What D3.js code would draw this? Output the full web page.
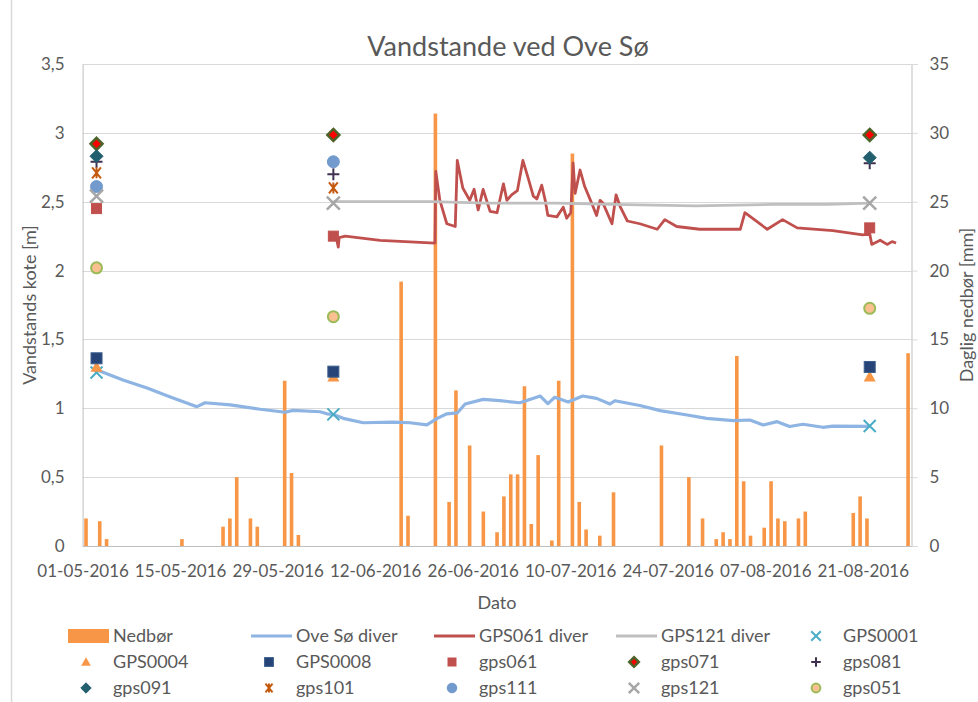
<!DOCTYPE html>
<html><head><meta charset="utf-8">
<script src="https://cdn.jsdelivr.net/npm/d3@7"></script>
<style>
html,body{margin:0;padding:0;background:#fff;}
text{font-family:Lato,"Open Sans",sans-serif;fill:#595959;}
</style></head>
<body><svg id="c" width="978" height="702"></svg>
<script>
// ---------- DATA ----------
const rainDates = ["2016-05-01","2016-05-03","2016-05-04","2016-05-15","2016-05-21","2016-05-22","2016-05-23","2016-05-25","2016-05-26","2016-05-30","2016-05-31","2016-06-01","2016-06-16","2016-06-17","2016-06-21","2016-06-23","2016-06-24","2016-06-26","2016-06-28","2016-06-30","2016-07-01","2016-07-02","2016-07-03","2016-07-04","2016-07-05","2016-07-06","2016-07-08","2016-07-09","2016-07-11","2016-07-12","2016-07-13","2016-07-15","2016-07-17","2016-07-24","2016-07-28","2016-07-30","2016-08-01","2016-08-02","2016-08-03","2016-08-04","2016-08-05","2016-08-06","2016-08-08","2016-08-09","2016-08-10","2016-08-11","2016-08-13","2016-08-14","2016-08-21","2016-08-22","2016-08-23","2016-08-29"];
const rainValues = [2.0,1.8,0.5,0.5,1.4,2.0,5.0,2.0,1.4,12.0,5.3,0.8,19.2,2.2,31.4,3.2,11.3,7.3,2.5,1.0,3.6,5.2,5.2,11.6,1.6,6.6,0.4,12.0,28.5,3.2,1.2,0.75,3.9,7.3,5.0,2.0,0.5,1.0,0.5,13.8,4.7,0.75,1.33,4.7,2.0,1.8,2.0,2.5,2.4,3.6,2.0,14.0];

const oveDates = ["2016-05-03 00","2016-05-06 19","2016-05-10 06","2016-05-13 12","2016-05-17 10","2016-05-18 14","2016-05-22 05","2016-05-26 12","2016-05-30 02","2016-05-31 05","2016-06-04 02","2016-06-05 02","2016-06-06 00","2016-06-07 10","2016-06-10 07","2016-06-14 14","2016-06-17 00","2016-06-19 10","2016-06-20 22","2016-06-22 07","2016-06-23 19","2016-06-24 22","2016-06-27 12","2016-06-29 22","2016-07-02 19","2016-07-05 17","2016-07-06 19","2016-07-07 19","2016-07-09 17","2016-07-11 19","2016-07-13 19","2016-07-15 17","2016-07-16 10","2016-07-20 00","2016-07-22 22","2016-07-26 19","2016-07-29 14","2016-08-02 10","2016-08-04 19","2016-08-06 17","2016-08-08 17","2016-08-10 12","2016-08-12 10","2016-08-15 07","2016-08-16 17","2016-08-22 00"];
const oveValues = [1.28,1.205,1.147,1.084,1.012,1.04,1.025,0.993,0.971,0.985,0.975,0.96,0.955,0.927,0.895,0.90,0.895,0.879,0.927,0.96,0.966,1.031,1.065,1.055,1.04,1.089,1.034,1.08,1.045,1.089,1.072,1.031,1.055,1.02,0.983,0.951,0.927,0.910,0.915,0.879,0.903,0.868,0.884,0.862,0.871,0.868];

const g061Dates = ["2016-06-06 00","2016-06-06 10","2016-06-06 17","2016-06-06 20","2016-06-07 17","2016-06-12 17","2016-06-20 14","2016-06-20 17","2016-06-21 07","2016-06-22 07","2016-06-23 12","2016-06-23 19","2016-06-24 14","2016-06-25 14","2016-06-26 05","2016-06-26 19","2016-06-27 12","2016-06-28 12","2016-06-29 12","2016-06-30 10","2016-06-30 22","2016-07-01 14","2016-07-02 10","2016-07-03 05","2016-07-03 22","2016-07-04 17","2016-07-05 05","2016-07-05 22","2016-07-06 10","2016-07-06 19","2016-07-08 02","2016-07-09 00","2016-07-09 12","2016-07-10 02","2016-07-10 10","2016-07-10 17","2016-07-11 10","2016-07-12 02","2016-07-13 02","2016-07-13 19","2016-07-14 07","2016-07-14 17","2016-07-16 00","2016-07-16 14","2016-07-17 05","2016-07-18 05","2016-07-20 00","2016-07-22 12","2016-07-23 14","2016-07-25 07","2016-07-28 14","2016-08-03 10","2016-08-04 02","2016-08-07 07","2016-08-09 12","2016-08-11 14","2016-08-16 17","2016-08-21 00","2016-08-22 00","2016-08-22 07","2016-08-23 12","2016-08-24 12","2016-08-25 05","2016-08-25 19"];
const g061Values = [2.25,2.24,2.17,2.24,2.25,2.22,2.20,2.72,2.51,2.34,2.32,2.80,2.60,2.51,2.59,2.44,2.59,2.43,2.42,2.63,2.51,2.55,2.58,2.80,2.68,2.54,2.52,2.62,2.51,2.40,2.39,2.46,2.38,2.42,2.78,2.56,2.73,2.61,2.49,2.40,2.51,2.49,2.34,2.55,2.46,2.36,2.34,2.30,2.37,2.32,2.30,2.30,2.42,2.30,2.37,2.31,2.29,2.26,2.27,2.19,2.22,2.19,2.21,2.20];

const g121Dates = ["2016-06-06 00","2016-06-12 00","2016-06-20 00","2016-06-28 00","2016-07-08 00","2016-07-16 00","2016-07-28 00","2016-08-08 00","2016-08-16 00","2016-08-22 00"];
const g121Values = [2.50,2.50,2.50,2.49,2.49,2.48,2.47,2.48,2.48,2.49];

const surveyDates = ["2016-05-03","2016-06-06","2016-08-22"];
const GPS0001 = [1.26, 0.956, 0.871];
const GPS0004 = [1.30, 1.23, 1.23];
const GPS0008 = [1.363, 1.266, 1.30];
const gps061 = [2.45, 2.25, 2.31];
const gps071 = [2.92, 2.985, 2.985];
const gps081 = [2.79, 2.70, 2.78];
const gps091 = [2.83, null, 2.82];
const gps101 = [2.71, 2.60, null];
const gps111 = [2.61, 2.79, null];
const gps121 = [2.54, 2.49, 2.49];
const gps051 = [2.02, 1.665, 1.726];

const xTickDates = ["2016-05-01","2016-05-15","2016-05-29","2016-06-12","2016-06-26","2016-07-10","2016-07-24","2016-08-07","2016-08-21"];
const yLeftTicks = [0,0.5,1,1.5,2,2.5,3,3.5];
const yRightTicks = [0,5,10,15,20,25,30,35];

// ---------- CHART ----------
const pDay = d3.timeParse("%Y-%m-%d");
const pHour = d3.timeParse("%Y-%m-%d %H");
const svg = d3.select("#c");
const L = 82.6, R = 911.5, T = 64, B = 546;

const xT = d3.scaleTime().domain([pDay("2016-05-01"), pDay("2016-08-28")]).range([L, R]);
const allDays = d3.timeDay.range(pDay("2016-05-01"), pDay("2016-08-30")).map(d3.timeFormat("%Y-%m-%d"));
const xB = d3.scaleBand().domain(allDays).range([L, R]);
const yL = d3.scaleLinear().domain([0, 3.5]).range([B, T]);
const yR = d3.scaleLinear().domain([0, 35]).range([B, T]);

// chart border
svg.append("line").attr("x1",11.5).attr("x2",11.5).attr("y1",0).attr("y2",702).attr("stroke","#D9D9D9").attr("stroke-width",1.5);

// gridlines
svg.append("g").selectAll("line").data(yLeftTicks).join("line")
  .attr("x1", L).attr("x2", R).attr("y1", d => Math.round(yL(d))+0.5).attr("y2", d => Math.round(yL(d))+0.5)
  .attr("stroke", "#D9D9D9").attr("stroke-width", 1);

// title
svg.append("text").attr("x", 508).attr("y", 56).attr("text-anchor","middle")
  .style("font-size","27px").text("Vandstande ved Ove Sø");

// bars
svg.append("g").selectAll("rect").data(rainDates.map((d,i)=>({d, v: rainValues[i]}))).join("rect")
  .attr("x", d => xB(d.d) + xB.bandwidth()/2 - 1.8)
  .attr("width", 3.6)
  .attr("y", d => yR(d.v)).attr("height", d => B - yR(d.v))
  .attr("fill", "#F79646");

// axes
const axB = svg.append("g").attr("transform", `translate(0,${B})`)
  .call(d3.axisBottom(xT).tickValues(xTickDates.map(pDay)).tickFormat(d3.timeFormat("%d-%m-%Y")).tickSize(0).tickPadding(19));
axB.select(".domain").attr("stroke","#BFBFBF");
axB.selectAll("text").style("font-size","17px").style("font-family","Lato");

const axL = svg.append("g").attr("transform", `translate(${L},0)`)
  .call(d3.axisLeft(yL).tickValues(yLeftTicks).tickFormat(d => String(d).replace(".", ",")).tickSize(0).tickPadding(18));
axL.select(".domain").attr("stroke","#BFBFBF");
axL.selectAll("text").style("font-size","17px").style("font-family","Lato");

const axR = svg.append("g").attr("transform", `translate(${R},0)`)
  .call(d3.axisRight(yR).tickValues(yRightTicks).tickSize(6).tickPadding(12));
axR.select(".domain").attr("stroke","#BFBFBF");
axR.selectAll("line").attr("stroke","#D9D9D9");
axR.selectAll("text").style("font-size","17px").style("font-family","Lato");
axL.selectAll("text").attr("fill","#595959");
axR.selectAll("text").attr("fill","#595959");
axB.selectAll("text").attr("fill","#595959");

// axis titles
svg.append("text").attr("x", 497).attr("y", 609).attr("text-anchor","middle").style("font-size","18px").text("Dato");
svg.append("text").attr("transform","translate(36,305) rotate(-90)").attr("text-anchor","middle").style("font-size","18px").text("Vandstands kote [m]");
svg.append("text").attr("transform","translate(973,305) rotate(-90)").attr("text-anchor","middle").style("font-size","18px").text("Daglig nedbør [mm]");

// lines
function drawLine(dates, vals, color, w) {
  const data = dates.map((d,i)=>[pHour(d), vals[i]]);
  svg.append("path").datum(data)
    .attr("d", d3.line().x(d => xT(d[0])).y(d => yL(d[1])))
    .attr("fill","none").attr("stroke", color).attr("stroke-width", w).attr("stroke-linejoin","round");
}
drawLine(oveDates, oveValues, "#8DB4E2", 3.2);
drawLine(g061Dates, g061Values, "#C0504D", 2.8);
drawLine(g121Dates, g121Values, "#BFBFBF", 2.8);

// markers
function marker(g, type, x, y, s, st) {
  const c = st.color;
  if (type === "x") {
    g.append("path").attr("d", `M${x-s},${y-s}L${x+s},${y+s}M${x-s},${y+s}L${x+s},${y-s}`).attr("stroke", c).attr("stroke-width", st.w || 2).attr("fill","none");
  } else if (type === "tri") {
    g.append("path").attr("d", `M${x},${y-s}L${x+s},${y+s*0.8}L${x-s},${y+s*0.8}Z`).attr("fill", c);
  } else if (type === "square") {
    g.append("rect").attr("x", x-s).attr("y", y-s).attr("width", 2*s).attr("height", 2*s).attr("fill", c).attr("stroke", st.stroke || c).attr("stroke-width", 1);
  } else if (type === "diamond") {
    g.append("path").attr("d", `M${x},${y-s}L${x+s},${y}L${x},${y+s}L${x-s},${y}Z`).attr("fill", c).attr("stroke", st.stroke || c).attr("stroke-width", st.sw || 1);
  } else if (type === "plus") {
    g.append("path").attr("d", `M${x-s},${y}L${x+s},${y}M${x},${y-s}L${x},${y+s}`).attr("stroke", c).attr("stroke-width", 2).attr("fill","none");
  } else if (type === "star") {
    g.append("path").attr("d", `M${x-s*0.8},${y-s}L${x+s*0.8},${y+s}M${x-s*0.8},${y+s}L${x+s*0.8},${y-s}M${x},${y-s}L${x},${y+s}`).attr("stroke", c).attr("stroke-width", 2).attr("fill","none");
  } else if (type === "circle") {
    g.append("circle").attr("cx", x).attr("cy", y).attr("r", s).attr("fill", c).attr("stroke", st.stroke || c).attr("stroke-width", st.sw || 1);
  }
}
const series = [
  {name:"GPS0001", vals:GPS0001, type:"x", s:6, st:{color:"#4BACC6", w:2}},
  {name:"GPS0004", vals:GPS0004, type:"tri", s:6, st:{color:"#F79646"}},
  {name:"GPS0008", vals:GPS0008, type:"square", s:5.5, st:{color:"#264478", stroke:"#3A5E8C"}},
  {name:"gps061", vals:gps061, type:"square", s:5, st:{color:"#C0504D"}},
  {name:"gps071", vals:gps071, type:"diamond", s:6, st:{color:"#FF0000", stroke:"#4F6228", sw:2.5}},
  {name:"gps081", vals:gps081, type:"plus", s:6, st:{color:"#403152"}},
  {name:"gps091", vals:gps091, type:"diamond", s:6.5, st:{color:"#215E6E"}},
  {name:"gps101", vals:gps101, type:"star", s:5.5, st:{color:"#C45A10"}},
  {name:"gps111", vals:gps111, type:"circle", s:6, st:{color:"#729ACD"}},
  {name:"gps121", vals:gps121, type:"x", s:6.5, st:{color:"#A6A6A6", w:2.5}},
  {name:"gps051", vals:gps051, type:"circle", s:5.5, st:{color:"#FAC090", stroke:"#9BBB59", sw:2}}
];
const mg = svg.append("g");
series.forEach(se => {
  se.vals.forEach((v,i) => {
    if (v == null) return;
    marker(mg, se.type, xT(pDay(surveyDates[i])), yL(v), se.s, se.st);
  });
});

// legend
const colX = [113, 296, 479, 661, 843];
const rowY = [636, 662, 688];
const lg = svg.append("g");
const legendItems = [
  {name:"Nedbør", kind:"rect", color:"#F79646"},
  {name:"Ove Sø diver", kind:"line", color:"#8DB4E2"},
  {name:"GPS061 diver", kind:"line", color:"#C0504D"},
  {name:"GPS121 diver", kind:"line", color:"#BFBFBF"}
].concat(series.map(s => ({name:s.name, kind:"marker", se:s})));
legendItems.forEach((it, i) => {
  const cx = colX[i % 5], cy = rowY[Math.floor(i / 5)];
  if (it.kind === "rect") {
    lg.append("rect").attr("x", cx-45).attr("y", cy-7).attr("width", 41).attr("height", 14).attr("fill", it.color);
  } else if (it.kind === "line") {
    lg.append("line").attr("x1", cx-45).attr("x2", cx-4).attr("y1", cy).attr("y2", cy).attr("stroke", it.color).attr("stroke-width", 3);
  } else {
    marker(lg, it.se.type, cx-27, cy, Math.max(4, it.se.s*0.8), it.se.st);
  }
  lg.append("text").attr("x", cx).attr("y", cy).attr("dy","0.36em").style("font-size","18px").text(it.name);
});
</script></body></html>
